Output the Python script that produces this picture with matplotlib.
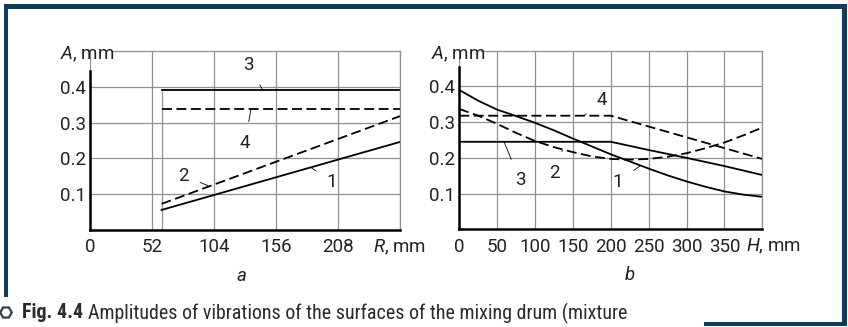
import numpy as np
import matplotlib
matplotlib.use("Agg")
import matplotlib.pyplot as plt
from matplotlib.patches import RegularPolygon, Rectangle
from matplotlib.transforms import IdentityTransform

FONT = "Roboto"
CAP_FONT = "Roboto Condensed"
plt.rcParams["font.family"] = [FONT, "DejaVu Sans"]
plt.rcParams["mathtext.fontset"] = "custom"
plt.rcParams["mathtext.rm"] = FONT
plt.rcParams["mathtext.it"] = FONT + ":italic"

# panel a: amplitude vs R
r_x = [60, 260]
a_curve1 = [0.056, 0.246]
a_curve2 = [0.073, 0.318]
a_curve3 = [0.39, 0.39]
a_curve4 = [0.338, 0.338]
r_ticks = [0, 52, 104, 156, 208, 260]
r_labels = ["0", "52", "104", "156", "208", ""]

# panel b: amplitude vs H
h_x = [0, 25, 50, 75, 100, 125, 150, 175, 200, 225, 250, 275, 300, 325, 350, 375, 400]
b_curve1 = [0.39, 0.36, 0.335, 0.317, 0.298, 0.277, 0.254, 0.232, 0.21, 0.19, 0.17, 0.151, 0.134, 0.119, 0.106, 0.097, 0.091]
b_curve2 = [0.337, 0.318, 0.295, 0.27, 0.247, 0.23, 0.216, 0.204, 0.197, 0.195, 0.197, 0.203, 0.213, 0.227, 0.243, 0.263, 0.285]
h3_x = [0, 200, 250, 300, 350, 400]
b_curve3 = [0.245, 0.245, 0.222, 0.2, 0.177, 0.152]
h4_x = [0, 200, 400]
b_curve4 = [0.318, 0.318, 0.197]
h_ticks = [0, 50, 100, 150, 200, 250, 300, 350, 400]
h_labels = ["0", "50", "100", "150", "200", "250", "300", "350", ""]

y_ticks = [0.1, 0.2, 0.3, 0.4]
y_labels = ["0.1", "0.2", "0.3", "0.4"]

W, H = 848, 327
fig = plt.figure(figsize=(W / 100, H / 100), dpi=100)
FS = 13.5
TXT = "#222222"
GRID = "#909090"
DASH = (0, (5.5, 2.5))

def px_axes(x0, y_bottom, w, h):
    return fig.add_axes([x0 / W, (H - y_bottom) / H, w / W, h / H])

def style_axes(ax, xlim, xticks, xlabels, top_start, spine_top):
    ax.set_xlim(*xlim)
    ax.set_ylim(0, 0.5)
    ax.set_xticks(xticks)
    ax.set_xticklabels(xlabels)
    ax.set_yticks(y_ticks)
    ax.set_yticklabels(y_labels)
    ax.tick_params(length=0, labelsize=FS, pad=3, labelcolor=TXT)
    ax.tick_params(axis="x", pad=6)
    ax.grid(True, color=GRID, lw=0.9)
    ax.set_axisbelow(True)
    for s in ["top", "right"]:
        ax.spines[s].set_color(GRID)
        ax.spines[s].set_linewidth(0.9)
    ax.spines["top"].set_bounds(top_start, xlim[1])
    for s in ["left", "bottom"]:
        ax.spines[s].set_color("black")
        ax.spines[s].set_linewidth(1.8)
    ax.spines["left"].set_bounds(0, spine_top)

def leader(ax, text, xy, xytext):
    ax.annotate(text, xy=xy, xytext=xytext, fontsize=FS, color=TXT, ha="center", va="center",
                arrowprops=dict(arrowstyle="-", lw=0.6, color="black", shrinkA=7, shrinkB=0))

# ---- panel a
ax1 = px_axes(90, 230, 310, 179)
style_axes(ax1, (0, 260), r_ticks, r_labels, 19, 0.445)
ax1.plot([r_x[0], r_x[0]], [0, a_curve3[0]], color=GRID, lw=0.9)
ax1.plot(r_x, a_curve3, color="black", lw=1.3)
ax1.plot(r_x, a_curve4, color="black", lw=1.3, ls=DASH)
ax1.plot(r_x, a_curve2, color="black", lw=1.3, ls=DASH)
ax1.plot(r_x, a_curve1, color="black", lw=1.3)
leader(ax1, "3", (145, 0.39), (133, 0.462))
leader(ax1, "4", (135, 0.338), (130, 0.243))
leader(ax1, "2", (99, 0.124), (78, 0.152))
leader(ax1, "1", (186, 0.173), (203, 0.135))
ax1.text(237, -0.022, r"$\it{R}$, mm", fontsize=FS, va="top", color=TXT)
ax1.text(127, -0.129, r"$\it{a}$", fontsize=FS, ha="center", va="center", color=TXT)
ax1.text(-25, 0.49, r"$\it{A}$, mm", fontsize=FS, va="center", color=TXT)

# ---- panel b
ax2 = px_axes(459.3, 229.3, 303, 178.6)
style_axes(ax2, (0, 400), h_ticks, h_labels, 28, 0.454)
ax2.plot(h_x, b_curve1, color="black", lw=1.3)
ax2.plot(h_x, b_curve2, color="black", lw=1.3, ls=DASH)
ax2.plot(h3_x, b_curve3, color="black", lw=1.3)
ax2.plot(h4_x, b_curve4, color="black", lw=1.3, ls=DASH)
leader(ax2, "4", (165, 0.318), (188, 0.361))
leader(ax2, "3", (59, 0.245), (80, 0.138))
leader(ax2, "2", (136, 0.221), (125, 0.159))
leader(ax2, "1", (239, 0.178), (209, 0.133))
ax2.text(378, -0.022, r"$\it{H}$, mm", fontsize=FS, va="top", color=TXT)
ax2.text(225, -0.129, r"$\it{b}$", fontsize=FS, ha="center", va="center", color=TXT)
ax2.text(-38, 0.49, r"$\it{A}$, mm", fontsize=FS, va="center", color=TXT)

# ---- frame and caption
FRAME = "#0b3d5e"
def px_rect(x0, y0, x1, y1):
    fig.patches.append(Rectangle((x0, H - y1), x1 - x0, y1 - y0, transform=IdentityTransform(),
                                 color=FRAME, lw=0))
px_rect(4, 4, 847, 9)
px_rect(4, 4, 8, 297)
px_rect(842, 4, 847, 326)
px_rect(704, 322, 847, 326)
fig.patches.append(RegularPolygon((6, H - 312.5), 6, radius=5.8, orientation=np.pi / 6,
                                  transform=IdentityTransform(), fill=False, ec="#2b3f52", lw=1.6))
fig.text(22 / W, 1 - 313 / H, "Fig. 4.4", fontsize=14.4, weight="bold", family=CAP_FONT,
         va="center", color="#2b2b2b")
fig.text(88 / W, 1 - 313 / H, "Amplitudes of vibrations of the surfaces of the mixing drum (mixture",
         fontsize=14.4, family=CAP_FONT, va="center", color="#2b2b2b")

fig.savefig("out.png", dpi=100)
